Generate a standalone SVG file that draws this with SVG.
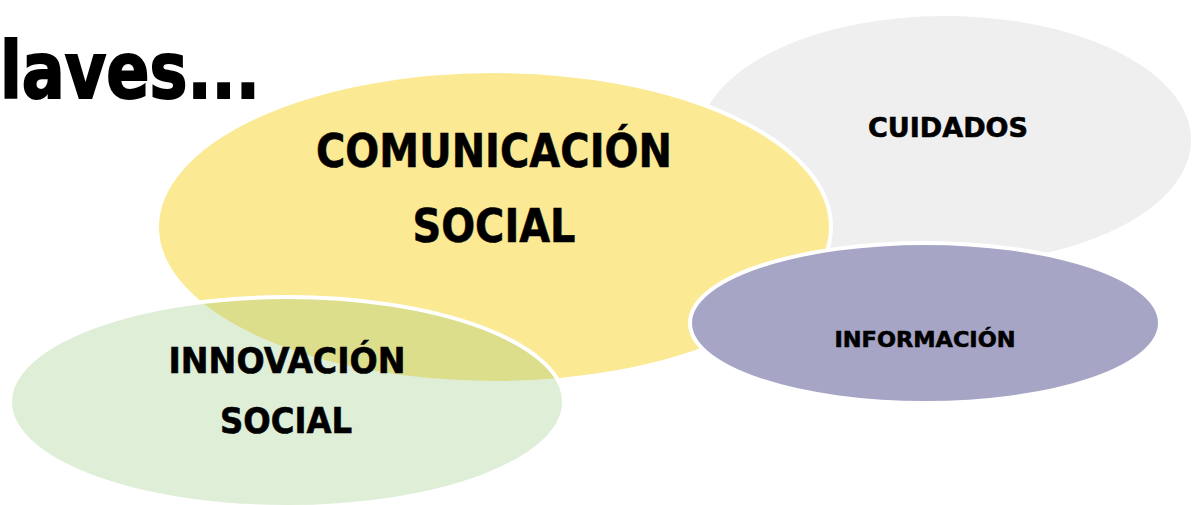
<svg xmlns="http://www.w3.org/2000/svg" width="1195" height="505" viewBox="0 0 1195 505">
<style>
.lbl{font-family:"DejaVu Sans","Liberation Sans",sans-serif;font-weight:bold;fill:#000;text-anchor:middle;stroke:#000;stroke-width:0.6}
.node{stroke:#fff;stroke-width:4}
</style>
<rect width="1195" height="505" fill="#fff"/>
<text x="0" y="98" font-family="DejaVu Sans, Liberation Sans, sans-serif" font-weight="bold" font-size="78" stroke="#000" stroke-width="2" textLength="260" lengthAdjust="spacingAndGlyphs">laves...</text>
<g id="cuidados">
<ellipse class="node" cx="945" cy="140" rx="248" ry="126" fill="#efefef"/>
<text class="lbl" x="948" y="137" font-size="27" textLength="160" lengthAdjust="spacingAndGlyphs">CUIDADOS</text>
</g>
<g id="comunicacion">
<ellipse class="node" cx="494" cy="227" rx="337" ry="156" fill="#fbe994"/>
<text class="lbl" x="494" y="167" font-size="46" textLength="356" lengthAdjust="spacingAndGlyphs">COMUNICACIÓN</text>
<text class="lbl" x="494" y="242" font-size="46" textLength="163" lengthAdjust="spacingAndGlyphs">SOCIAL</text>
</g>
<g id="innovacion">
<ellipse class="node" cx="287" cy="402" rx="277" ry="105" fill="#94c879" fill-opacity="0.3"/>
<text class="lbl" x="287" y="373" font-size="35" textLength="237" lengthAdjust="spacingAndGlyphs">INNOVACIÓN</text>
<text class="lbl" x="286" y="433" font-size="35" textLength="132" lengthAdjust="spacingAndGlyphs">SOCIAL</text>
</g>
<g id="informacion">
<ellipse class="node" cx="925" cy="323" rx="235" ry="80" fill="#a7a5c6"/>
<text class="lbl" x="925" y="347" font-size="22" textLength="181" lengthAdjust="spacingAndGlyphs">INFORMACIÓN</text>
</g>
<g id="connectors"/>
</svg>
